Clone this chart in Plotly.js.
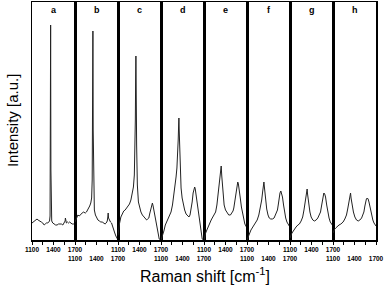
<!DOCTYPE html>
<html>
<head>
<meta charset="utf-8">
<script src="https://cdn.plot.ly/plotly-3.0.1.min.js"></script>
<style>html,body{margin:0;padding:0;background:#fff;}#chart{width:384px;height:289px;}</style>
</head>
<body>
<div id="chart"></div>
<script>
// Panel labels
const panelNames = ['a','b','c','d','e','f','g','h'];
// Tick positions / labels (Raman shift, cm-1)
const tickValues = [1100, 1400, 1700];
const tickLabels = ['1100', '1400', '1700'];
const minorTickValues = [1250, 1550];

// Spectra (x: Raman shift cm-1, y: intensity a.u.)
const xA = [1100,1115,1130,1150,1170,1185,1200,1215,1230,1250,1270,1285,1300,1320,1335,1345,1352,1356,1360,1364,1368,1375,1390,1410,1430,1450,1470,1490,1510,1530,1545,1555,1562,1566,1570,1580,1595,1610,1625,1640,1660,1680,1700];
const yA = [17,18,19,20,21,20,19,18,18,17,15,16,17,17,18,19,24,80,215,70,23,19,17,16,15,15,16,16,16,15,17,18,19,22,18,17,18,17,18,17,16,16,15];

const xB = [1100,1110,1125,1140,1160,1180,1200,1215,1230,1245,1260,1275,1290,1305,1320,1332,1340,1346,1350,1354,1360,1370,1385,1400,1420,1440,1460,1480,1500,1520,1535,1550,1558,1563,1568,1580,1595,1610,1625,1640,1655,1670,1685,1700];
const yB = [18,20,22,25,24,26,27,28,27,27,28,30,31,34,37,42,60,130,209,110,45,30,25,22,20,19,18,18,17,16,17,19,23,27,22,20,18,17,13,10,7,4,1,0];

const xC = [1100,1108,1120,1140,1160,1180,1200,1220,1240,1260,1280,1300,1315,1328,1336,1342,1346,1350,1354,1360,1370,1385,1400,1420,1440,1460,1480,1500,1515,1530,1545,1555,1565,1572,1580,1590,1600,1615,1630,1645,1660,1675,1690,1700];
const yC = [5,10,16,23,26,29,30,32,34,36,40,46,53,65,85,120,160,184,150,95,55,38,32,28,25,23,21,20,21,22,27,31,35,37,37,34,30,23,15,9,4,1,0,0];

const xD = [1100,1110,1125,1140,1160,1180,1200,1220,1240,1260,1280,1295,1310,1322,1332,1340,1346,1350,1354,1360,1368,1380,1395,1410,1430,1450,1470,1490,1505,1520,1535,1548,1560,1570,1578,1588,1600,1615,1630,1645,1660,1675,1690,1700];
const yD = [0,2,5,9,15,18,21,24,28,35,45,53,63,72,84,100,115,122,110,88,68,52,42,36,30,26,24,23,25,30,38,47,52,53,51,46,40,28,20,12,6,1,0,0];

const xE = [1100,1110,1123,1140,1160,1180,1200,1215,1230,1245,1262,1280,1294,1310,1322,1332,1340,1348,1359,1370,1381,1400,1423,1445,1469,1490,1505,1516,1532,1548,1560,1571,1580,1594,1608,1622,1638,1654,1670,1685,1700];
const yE = [0,4,7,10,14,17,20,22,24,25,28,35,43,52,60,68,74,64,53,42,35,30,27,25,25,27,29,32,39,47,54,58,56,50,41,33,26,20,16,14,12];

const xF = [1100,1105,1120,1134,1155,1181,1210,1242,1265,1289,1305,1318,1328,1336,1344,1352,1360,1375,1393,1410,1431,1455,1478,1500,1525,1538,1549,1560,1572,1582,1595,1610,1624,1640,1657,1675,1690,1700];
const yF = [0,1,4,7,10,13,17,20,25,33,40,48,54,58,52,45,40,31,25,22,21,21,22,25,30,36,43,47,49,47,43,35,28,22,18,15,14,13];

const xG = [1100,1104,1120,1137,1160,1184,1210,1231,1255,1277,1295,1311,1325,1334,1339,1345,1352,1362,1378,1395,1418,1441,1465,1488,1510,1526,1540,1550,1562,1572,1584,1596,1612,1628,1645,1662,1678,1690,1700];
const yG = [2,3,6,8,11,13,15,16,19,23,30,37,44,50,51,46,41,35,28,23,20,19,20,22,25,28,34,40,45,47,46,43,35,28,22,18,16,15,14];

const xH = [1100,1110,1124,1138,1160,1184,1210,1241,1265,1288,1305,1321,1335,1345,1352,1360,1367,1385,1405,1428,1452,1475,1499,1515,1531,1545,1555,1566,1578,1590,1602,1620,1640,1656,1672,1686,1700];
const yH = [7,9,11,12,14,15,16,18,21,25,31,37,43,47,42,38,35,28,23,20,19,20,22,25,28,34,38,41,42,41,38,31,25,20,17,15,14];

const xs = [xA,xB,xC,xD,xE,xF,xG,xH];
const ys = [yA,yB,yC,yD,yE,yF,yG,yH];

const traces = [];
const layout = {
  width: 384, height: 289,
  margin: {l: 32, r: 8, t: 2, b: 49},
  paper_bgcolor: '#fff', plot_bgcolor: '#fff',
  showlegend: false,
  font: {family: 'Arial, Liberation Sans, sans-serif', color: '#000'},
  annotations: []
};

for (let i = 0; i < 8; i++) {
  const s = i === 0 ? '' : String(i + 1);
  traces.push({
    x: xs[i], y: ys[i], type: 'scatter', mode: 'lines',
    xaxis: 'x' + s, yaxis: 'y' + s,
    line: {color: '#222', width: 1},
    hoverinfo: 'skip'
  });
  layout['xaxis' + s] = {
    domain: [i / 8, (i + 1) / 8],
    anchor: 'y' + s,
    range: [1100, 1700],
    tickmode: 'array', tickvals: tickValues, ticktext: tickLabels,
    ticks: 'outside', ticklen: 3, tickwidth: 1, tickcolor: '#000',
    minor: {tickmode: 'array', tickvals: minorTickValues, ticks: 'outside', ticklen: 3, tickwidth: 1, tickcolor: '#000', showgrid: false},
    ticklabelstandoff: (i % 2 === 1) ? 9 : 0,
    tickfont: {size: 6.5, family: 'Arial, Liberation Sans, sans-serif', color: '#000', weight: 'bold'},
    showline: true, mirror: true, linewidth: 1.5, linecolor: '#000',
    showgrid: false, zeroline: false, fixedrange: true
  };
  layout['yaxis' + s] = {
    domain: [0, 1],
    anchor: 'x' + s,
    range: [0, 238],
    showticklabels: false, ticks: '',
    showline: true, mirror: true, linewidth: 1.5, linecolor: '#000',
    showgrid: false, zeroline: false, fixedrange: true
  };
  layout.annotations.push({
    text: panelNames[i], xref: 'paper', yref: 'paper',
    x: (i + 0.5) / 8, y: 0.966, xanchor: 'center', yanchor: 'middle',
    showarrow: false,
    font: {size: 9, family: 'Arial, Liberation Sans, sans-serif', color: '#000', weight: 'bold'}
  });
}

layout.annotations.push({
  text: 'Intensity [a.u.]', xref: 'paper', yref: 'paper',
  x: -0.058, y: 0.5, xanchor: 'center', yanchor: 'middle', textangle: -90,
  showarrow: false,
  font: {size: 15, family: 'Arial, Liberation Sans, sans-serif', color: '#000'}
});
layout.annotations.push({
  text: 'Raman shift [cm<sup>-1</sup>]', xref: 'paper', yref: 'paper',
  x: 0.503, y: -0.147, xanchor: 'center', yanchor: 'middle',
  showarrow: false,
  font: {size: 16, family: 'Arial, Liberation Sans, sans-serif', color: '#000'}
});

Plotly.newPlot('chart', traces, layout, {staticPlot: true, displayModeBar: false});
</script>
</body>
</html>
